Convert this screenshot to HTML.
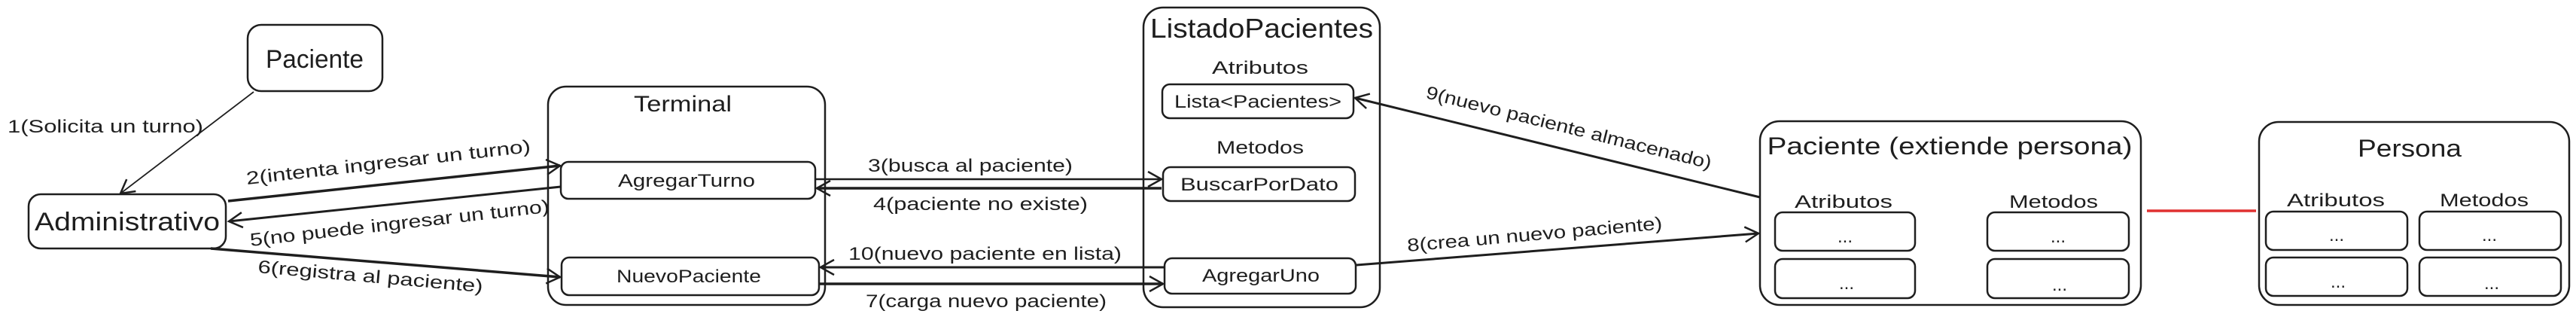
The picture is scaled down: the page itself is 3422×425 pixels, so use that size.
<!DOCTYPE html>
<html><head><meta charset="utf-8"><style>
html,body{margin:0;padding:0;background:#fff;}
svg{display:block;}
text{font-family:"Liberation Sans",sans-serif;fill:#1e1e1e;}
</style></head><body>
<svg width="3422" height="425" viewBox="0 0 3422 425" xmlns="http://www.w3.org/2000/svg">
<defs>
<marker id="a" markerWidth="24" markerHeight="24" refX="20" refY="12" orient="auto" markerUnits="userSpaceOnUse">
<path d="M2,2 L20,12 L2,22" fill="none" stroke="#1e1e1e" stroke-width="2.5"/>
</marker>
</defs>
<g fill="none" stroke="#1e1e1e" stroke-width="2.5">
<rect x="329" y="33" width="179" height="88" rx="18"/>
<rect x="38" y="258" width="262" height="72" rx="16"/>
<rect x="728" y="115" width="368" height="290" rx="24"/>
<rect x="745" y="215" width="338" height="49" rx="10"/>
<rect x="746" y="342" width="342" height="50" rx="10"/>
<rect x="1519" y="10" width="314" height="398" rx="26"/>
<rect x="1544" y="112" width="254" height="45" rx="10"/>
<rect x="1545" y="222" width="255" height="45" rx="10"/>
<rect x="1547" y="343" width="254" height="47" rx="10"/>
<rect x="2338" y="161" width="506" height="244" rx="26"/>
<rect x="2358" y="282" width="186" height="51" rx="10"/>
<rect x="2640" y="282" width="188" height="51" rx="10"/>
<rect x="2358" y="344" width="186" height="52" rx="10"/>
<rect x="2640" y="344" width="188" height="52" rx="10"/>
<rect x="3001" y="162" width="412" height="243" rx="26"/>
<rect x="3010" y="281" width="188" height="51" rx="10"/>
<rect x="3214" y="281" width="188" height="51" rx="10"/>
<rect x="3010" y="342" width="188" height="51" rx="10"/>
<rect x="3214" y="342" width="188" height="51" rx="10"/>
</g>
<g fill="none" stroke="#1e1e1e" stroke-width="2.5">
<line x1="337" y1="122" x2="160" y2="257" stroke-width="1.8" marker-end="url(#a)"/>
<line x1="303" y1="267" x2="744" y2="220" stroke-width="3.5" marker-end="url(#a)"/>
<line x1="745" y1="248" x2="304" y2="294" stroke-width="3" marker-end="url(#a)"/>
<line x1="280" y1="330" x2="744" y2="368" stroke-width="3.5" marker-end="url(#a)"/>
<line x1="1083" y1="238" x2="1543" y2="238" marker-end="url(#a)"/>
<line x1="1543" y1="250" x2="1085" y2="250" stroke-width="3.5" marker-end="url(#a)"/>
<line x1="1547" y1="355" x2="1090" y2="355" stroke-width="3" marker-end="url(#a)"/>
<line x1="1088" y1="377" x2="1545" y2="377" stroke-width="3.5" marker-end="url(#a)"/>
<line x1="1802" y1="352" x2="2336" y2="310" stroke-width="3" marker-end="url(#a)"/>
<line x1="2338" y1="262" x2="1800" y2="130" stroke-width="3" marker-end="url(#a)"/>
</g>
<line x1="2852" y1="280" x2="2997" y2="280" stroke="#e03131" stroke-width="3.5"/>
<g font-size="34" text-anchor="middle">
<text x="418" y="90" textLength="130" lengthAdjust="spacingAndGlyphs">Paciente</text>
<text x="169" y="306" textLength="246" lengthAdjust="spacingAndGlyphs">Administrativo</text>
<text x="907" y="148" font-size="30" textLength="130" lengthAdjust="spacingAndGlyphs">Terminal</text>
<text x="1676" y="50" font-size="36" textLength="296" lengthAdjust="spacingAndGlyphs">ListadoPacientes</text>
<text x="2590" y="205" font-size="32" textLength="485" lengthAdjust="spacingAndGlyphs">Paciente (extiende persona)</text>
<text x="3201" y="208" font-size="32" textLength="138" lengthAdjust="spacingAndGlyphs">Persona</text>
</g>
<g font-size="24" text-anchor="middle">
<text x="912" y="248" textLength="182" lengthAdjust="spacingAndGlyphs">AgregarTurno</text>
<text x="915" y="375" textLength="192" lengthAdjust="spacingAndGlyphs">NuevoPaciente</text>
<text x="1674" y="98" textLength="128" lengthAdjust="spacingAndGlyphs">Atributos</text>
<text x="1671" y="143" textLength="222" lengthAdjust="spacingAndGlyphs">Lista&lt;Pacientes&gt;</text>
<text x="1674" y="204" textLength="116" lengthAdjust="spacingAndGlyphs">Metodos</text>
<text x="1673" y="253" textLength="210" lengthAdjust="spacingAndGlyphs">BuscarPorDato</text>
<text x="1675" y="374" textLength="156" lengthAdjust="spacingAndGlyphs">AgregarUno</text>
<text x="2449" y="276" textLength="130" lengthAdjust="spacingAndGlyphs">Atributos</text>
<text x="2728" y="276" textLength="118" lengthAdjust="spacingAndGlyphs">Metodos</text>
<text x="3103" y="274" textLength="130" lengthAdjust="spacingAndGlyphs">Atributos</text>
<text x="3300" y="274" textLength="118" lengthAdjust="spacingAndGlyphs">Metodos</text>
<text x="2451" y="322">...</text><text x="2734" y="322">...</text>
<text x="2453" y="384">...</text><text x="2736" y="386">...</text>
<text x="3104" y="320">...</text><text x="3307" y="320">...</text>
<text x="3106" y="382">...</text><text x="3310" y="384">...</text>
</g>
<g font-size="24">
<text x="10" y="176" textLength="260" lengthAdjust="spacingAndGlyphs">1(Solicita un turno)</text>
<text transform="translate(328,245) rotate(-6.5)" textLength="380" lengthAdjust="spacingAndGlyphs">2(intenta ingresar un turno)</text>
<text transform="translate(333,327) rotate(-6.5)" textLength="400" lengthAdjust="spacingAndGlyphs">5(no puede ingresar un turno)</text>
<text transform="translate(342,362) rotate(5)" textLength="300" lengthAdjust="spacingAndGlyphs">6(registra al paciente)</text>
<text x="1153" y="228" textLength="272" lengthAdjust="spacingAndGlyphs">3(busca al paciente)</text>
<text x="1160" y="279" textLength="285" lengthAdjust="spacingAndGlyphs">4(paciente no existe)</text>
<text x="1127" y="345" textLength="363" lengthAdjust="spacingAndGlyphs">10(nuevo paciente en lista)</text>
<text x="1150" y="408" textLength="320" lengthAdjust="spacingAndGlyphs">7(carga nuevo paciente)</text>
<text transform="translate(1870,334) rotate(-5)" textLength="340" lengthAdjust="spacingAndGlyphs">8(crea un nuevo paciente)</text>
<text transform="translate(1893,130) rotate(14)" textLength="390" lengthAdjust="spacingAndGlyphs">9(nuevo paciente almacenado)</text>
</g>
</svg>
</body></html>
